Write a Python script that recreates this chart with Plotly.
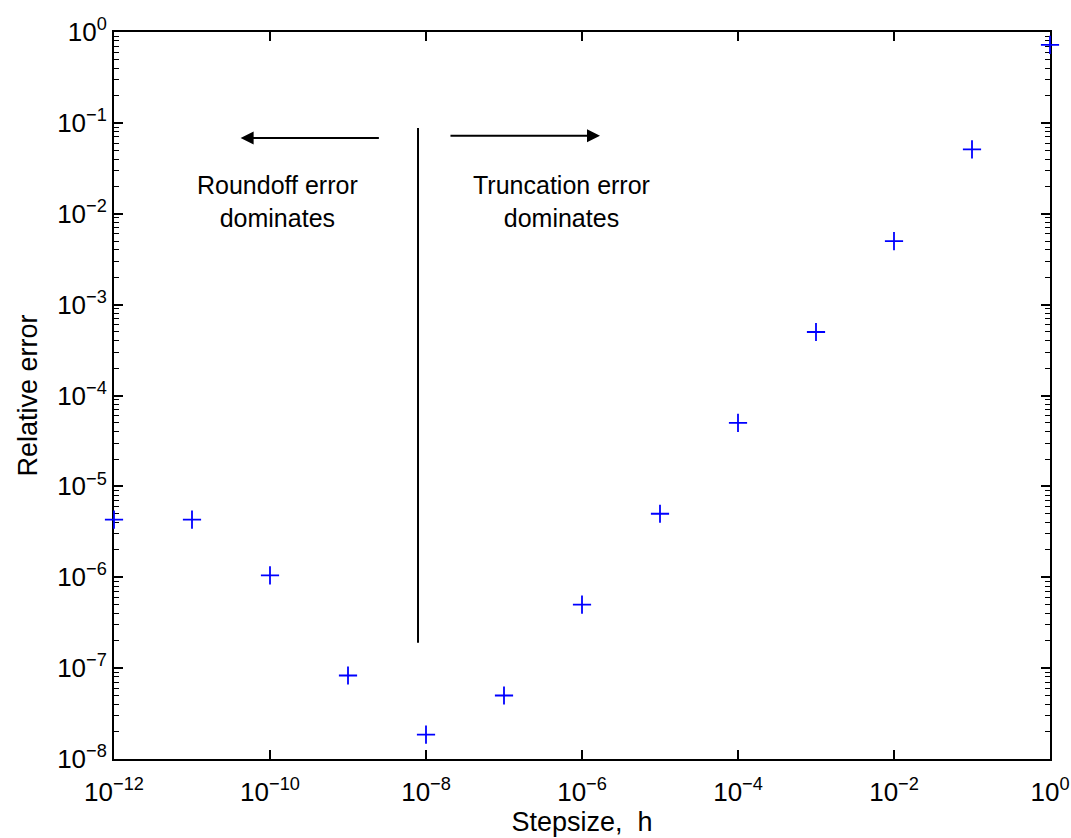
import numpy as np
import plotly.graph_objects as go

# Data
stepsize = [1e-12, 1e-11, 1e-10, 1e-9, 1e-8, 1e-7, 1e-6, 1e-5, 1e-4, 1e-3, 1e-2, 1e-1, 1e0]
rel_error = [4.3e-6, 4.3e-6, 1.05e-6, 8.3e-8, 1.85e-8, 5e-8, 5e-7, 5e-6, 5e-5, 5e-4, 5e-3, 5.1e-2, 0.72]

x_tickvals = [1e-12, 1e-10, 1e-8, 1e-6, 1e-4, 1e-2, 1e0]
x_ticktext = ["10<sup>\u221212</sup>", "10<sup>\u221210</sup>", "10<sup>\u22128</sup>",
              "10<sup>\u22126</sup>", "10<sup>\u22124</sup>", "10<sup>\u22122</sup>", "10<sup>0</sup>"]
y_tickvals = [1e-8, 1e-7, 1e-6, 1e-5, 1e-4, 1e-3, 1e-2, 1e-1, 1e0]
y_ticktext = ["10<sup>\u22128</sup>", "10<sup>\u22127</sup>", "10<sup>\u22126</sup>", "10<sup>\u22125</sup>",
              "10<sup>\u22124</sup>", "10<sup>\u22123</sup>", "10<sup>\u22122</sup>", "10<sup>\u22121</sup>", "10<sup>0</sup>"]

# Divider line and annotations (data coordinates)
divider_x = 7.9e-9
divider_y = [1.9e-7, 0.088]
left_arrow = dict(x0=2.6e-9, x1=4.2e-11, y=0.068)
right_arrow = dict(x0=1.97e-8, x1=1.7e-6, y=0.072)
left_label = dict(x=1.26e-10, y=0.0138, text="Roundoff error<br>dominates")
right_label = dict(x=5.5e-7, y=0.0138, text="Truncation error<br>dominates")

y_minor = [m * 10.0 ** e for e in range(-8, 0) for m in range(2, 10)]

FONT = "Liberation Sans, Arial, Helvetica, sans-serif"

fig = go.Figure()
fig.add_trace(go.Scatter(
    x=stepsize, y=rel_error, mode="markers",
    marker=dict(symbol="cross-thin", size=13, line=dict(color="#0000ff", width=1.8), color="#0000ff"),
    showlegend=False, cliponaxis=False,
))
fig.add_trace(go.Scatter(
    x=[divider_x, divider_x], y=divider_y, mode="lines",
    line=dict(color="black", width=2), showlegend=False,
))

for arr in (left_arrow, right_arrow):
    fig.add_annotation(
        x=np.log10(arr["x1"]), y=np.log10(arr["y"]),
        ax=np.log10(arr["x0"]), ay=np.log10(arr["y"]),
        xref="x", yref="y", axref="x", ayref="y",
        showarrow=True, arrowhead=2, arrowsize=1.3, arrowwidth=2, arrowcolor="black", text="",
    )
for lab in (left_label, right_label):
    fig.add_annotation(
        x=np.log10(lab["x"]), y=np.log10(lab["y"]), xref="x", yref="y",
        text=lab["text"], showarrow=False, align="center",
        font=dict(family=FONT, size=25, color="black"),
    )

axis_common = dict(
    showline=True, linecolor="black", linewidth=2, mirror="ticks",
    ticks="inside", ticklen=9, tickwidth=1.5, tickcolor="black",
    showgrid=False, zeroline=False, automargin=False, layer="below traces",
    tickfont=dict(family=FONT, size=26, color="black"),
)

fig.update_xaxes(
    type="log", range=[-12, 0], tickvals=x_tickvals, ticktext=x_ticktext,
    ticklabelstandoff=9,
    title=dict(text="Stepsize,\u00a0\u00a0h", font=dict(family=FONT, size=27, color="black"), standoff=2),
    **axis_common,
)
fig.update_yaxes(
    type="log", range=[-8, 0], tickvals=y_tickvals, ticktext=y_ticktext,
    minor=dict(ticks="inside", ticklen=5, tickwidth=1.2, tickcolor="black", tickvals=y_minor, showgrid=False),
    title=dict(text="Relative error", font=dict(family=FONT, size=27, color="black"), standoff=12),
    **axis_common,
)

fig.update_layout(
    width=1071, height=838,
    margin=dict(l=114, r=21, t=32, b=79),
    plot_bgcolor="white", paper_bgcolor="white",
)

fig.write_html("out.html")
